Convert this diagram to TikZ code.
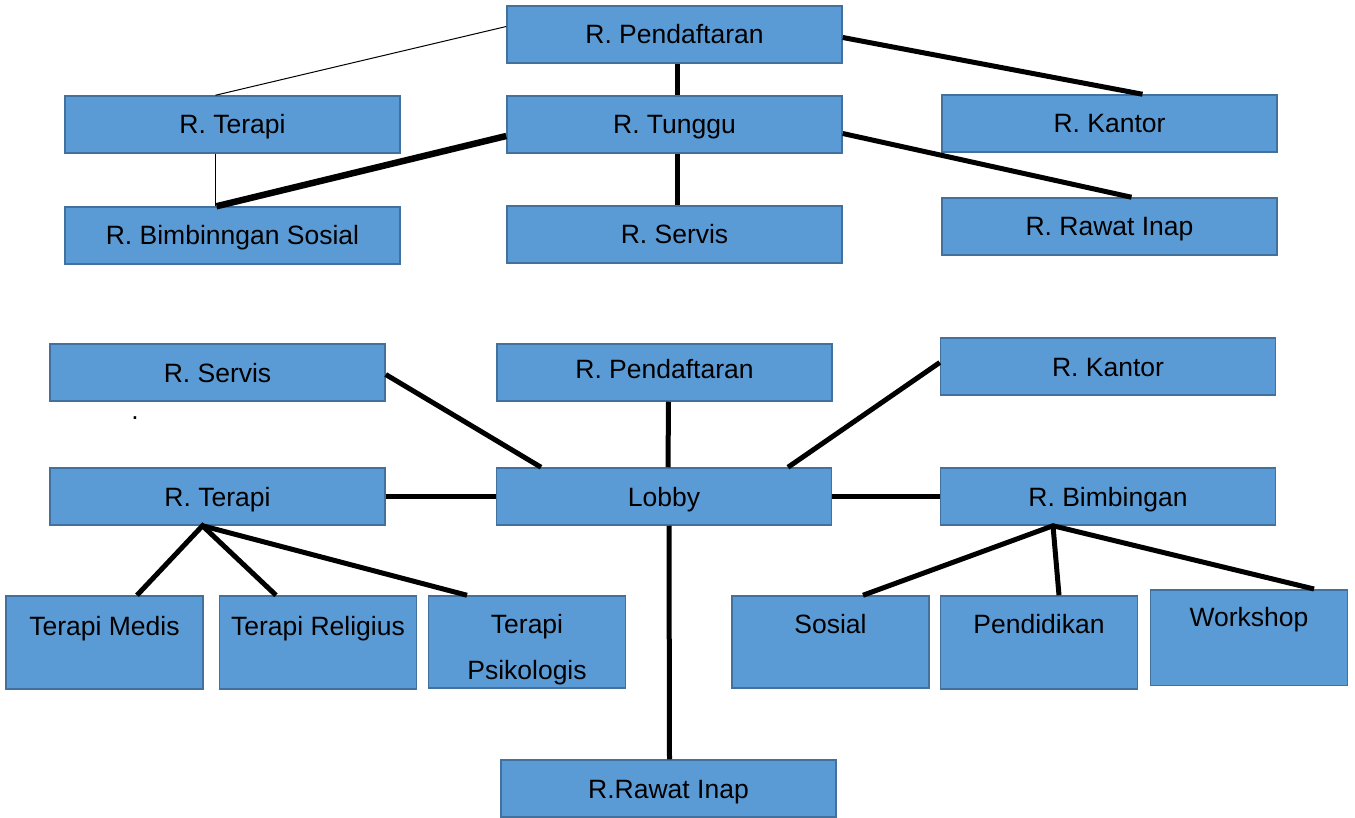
\documentclass[tikz,border=0pt]{standalone}
\usepackage{fontspec}
\setmainfont{Liberation Sans}
\usepackage{xcolor}
\usepackage{tikz}
\definecolor{biru}{HTML}{5B9BD5}
\definecolor{garis}{HTML}{41719C}

\begin{document}
\begin{tikzpicture}[x=1pt, y=-1pt,
    font=\fontsize{26.5}{32}\selectfont,
    ruang/.style={draw=garis, line width=1.5pt, fill=biru, minimum width=335pt, minimum height=57pt, inner sep=0pt, text height=25pt, text depth=6pt},
    sub/.style={draw=garis, line width=1.5pt, fill=biru, minimum width=197pt, inner sep=0pt, text height=37pt, text depth=55pt, align=center},
    tebal/.style={line width=5pt},
    tipis/.style={line width=1pt}]
      \useasboundingbox (0,0) rectangle (1355,818);

      % Nodos atas
      \node[ruang] (daftarA) at (674.5,34.5) {R. Pendaftaran};
      \node[ruang] (terapiA) at (232.5,124.5) {R. Terapi};
      \node[ruang] (tungguA) at (674.5,124.5) {R. Tunggu};
      \node[ruang] (kantorA) at (1109.5,123.5) {R. Kantor};
      \node[ruang] (bimbinganA) at (232.5,235.5) {R. Bimbinngan Sosial};
      \node[ruang] (servisA) at (674.5,234.5) {R. Servis};
      \node[ruang] (rawatA) at (1109.5,226.5) {R. Rawat Inap};

      % Garis atas
      \draw[tipis] ([yshift=8pt]daftarA.west) -- ([xshift=-17pt]terapiA.north);
      \draw[tebal] ([xshift=3pt]daftarA.south) -- ([xshift=3pt]tungguA.north);
      \draw[tebal] ([yshift=-3pt]daftarA.east) -- ([xshift=33pt]kantorA.north);
      \draw[line width=6.5pt] ([yshift=-11.5pt]tungguA.west) -- ([xshift=-16pt]bimbinganA.north);
      \draw[tipis] ([xshift=-17pt]terapiA.south) -- ([xshift=-17pt]bimbinganA.north);
      \draw[tebal] ([xshift=3pt]tungguA.south) -- ([xshift=3pt]servisA.north);
      \draw[tebal] ([yshift=-9pt]tungguA.east) -- ([xshift=22pt]rawatA.north);

      % Nodos bawah
      \node[ruang] (servisB) at (217.5,372.5) {R. Servis};
      \node (titik) at (135,418) {.};
      \node[ruang, text height=21pt, text depth=10pt] (daftarB) at (664.5,372.5) {R. Pendaftaran};
      \node[ruang] (kantorB) at (1108,366.5) {R. Kantor};
      \node[ruang] (terapiB) at (217.5,496.5) {R. Terapi};
      \node[ruang] (lobby) at (664,496.5) {Lobby};
      \node[ruang] (bimbinganB) at (1108,496.5) {R. Bimbingan};
      \node[sub, text height=39.5pt, text depth=53.5pt] (medis) at (104.5,642.5) {Terapi Medis};
      \node[sub, text height=39.5pt, text depth=53.5pt] (religius) at (318,642.5) {Terapi Religius};
      \node[sub, text height=83pt, text depth=9pt] (psikologis) at (527,642) {Terapi\\[14pt]Psikologis};
      \node[sub] (sosial) at (830.5,642) {Sosial};
      \node[sub, text depth=56pt] (pendidikan) at (1039,642.5) {Pendidikan};
      \node[sub, text depth=58.5pt] (workshop) at (1249,637.5) {Workshop};
      \node[ruang] (rawatB) at (668.5,788.5) {R.Rawat Inap};

      % Garis bawah
      \draw[tebal] ([yshift=-2pt]servisB.east) -- ([xshift=-123pt]lobby.north);
      \draw[tebal] ([xshift=4pt]daftarB.south) -- ([xshift=4pt]lobby.north);
      \draw[tebal] ([yshift=4pt]kantorB.west) -- ([xshift=124pt]lobby.north);
      \draw[tebal] (terapiB.east) -- (lobby.west);
      \draw[tebal] (lobby.east) -- (bimbinganB.west);
      \draw[tebal] ([xshift=5pt]lobby.south) -- ([xshift=1pt]rawatB.north);

      % Cabang terapi dan bimbingan
      \draw[tebal] ([xshift=32.5pt]medis.north) -- ([xshift=-15pt]terapiB.south) -- ([xshift=-42pt]religius.north);
      \draw[tebal] ([xshift=-15pt]terapiB.south) -- ([xshift=-60pt]psikologis.north);
      \draw[tebal] ([xshift=32.5pt]sosial.north) -- ([xshift=-55pt]bimbinganB.south) -- ([xshift=65pt]workshop.north);
      \draw[tebal] ([xshift=-55pt]bimbinganB.south) -- ([xshift=20pt]pendidikan.north);
    \end{tikzpicture}
\end{document}
